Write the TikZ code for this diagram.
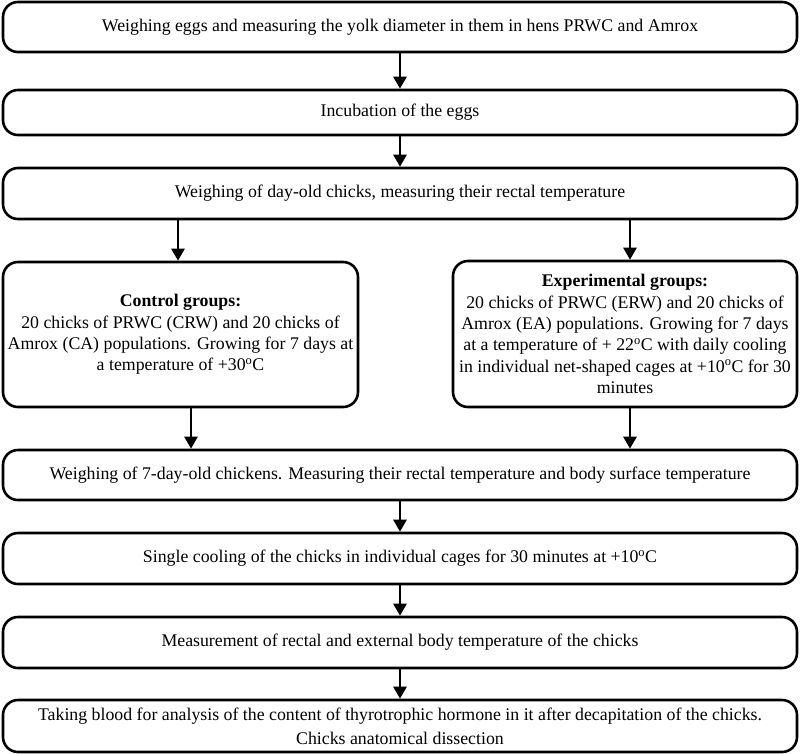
\documentclass[tikz,border=0pt]{standalone}
\usepackage{fontspec}
\setmainfont{Liberation Serif}
\usetikzlibrary{arrows.meta}
\begin{document}
\begin{tikzpicture}[x=1pt,y=-1pt,
  stepbox/.style={draw, line width=2.6pt, rounded corners=15pt, inner sep=0pt, align=center,
     font=\fontsize{17.8}{21.3}\selectfont},
  arr/.style={line width=2.6pt, -{Triangle[width=13pt,length=12pt]}}]
\useasboundingbox (0,0) rectangle (800,753);
\node[stepbox, minimum width=794pt, minimum height=50pt] (b1) at (400,27) {Weighing eggs and measuring the yolk diameter in them in hens PRWC and Amrox};
\node[stepbox, minimum width=794pt, minimum height=45pt] (b2) at (400,112.5) {Incubation of the eggs};
\node[stepbox, minimum width=794pt, minimum height=51pt] (b3) at (400,193.5) {Weighing of day-old chicks, measuring their rectal temperature};
\node[stepbox, minimum width=355pt, minimum height=145pt] (ctrl) at (180.5,334.5) {\textbf{Control groups:}\\20 chicks of PRWC (CRW) and 20 chicks of\\Amrox (CA) populations. Growing for 7 days at\\a temperature of +30\textsuperscript{o}C};
\node[stepbox, minimum width=344pt, minimum height=146pt] (exp) at (625,334) {\textbf{Experimental groups:}\\20 chicks of PRWC (ERW) and 20 chicks of\\Amrox (EA) populations. Growing for 7 days\\at a temperature of + 22\textsuperscript{o}C with daily cooling\\in individual net-shaped cages at +10\textsuperscript{o}C for 30\\minutes};
\node[stepbox, minimum width=794pt, minimum height=50pt] (b4) at (400,475) {Weighing of 7-day-old chickens. Measuring their rectal temperature and body surface temperature};
\node[stepbox, minimum width=794pt, minimum height=51pt] (b5) at (400,558.5) {Single cooling of the chicks in individual cages for 30 minutes at +10\textsuperscript{o}C};
\node[stepbox, minimum width=794pt, minimum height=51pt] (b6) at (400,642.5) {Measurement of rectal and external body temperature of the chicks};
\node[stepbox, minimum width=794pt, minimum height=52pt, font=\fontsize{17.8}{24}\selectfont] (b7) at (400,726) {Taking blood for analysis of the content of thyrotrophic hormone in it after decapitation of the chicks.\\Chicks anatomical dissection};
\draw[arr] (b1.south) -- (b2.north);
\draw[arr] (b2.south) -- (b3.north);
\draw[arr] ([xshift=-2.5pt]b3.south -| ctrl.north) -- ([xshift=-2.5pt]ctrl.north);
\draw[arr] ([xshift=5pt]b3.south -| exp.north) -- ([xshift=5pt]exp.north);
\draw[arr] ([xshift=10.5pt]ctrl.south) -- ([xshift=10.5pt]ctrl.south |- b4.north);
\draw[arr] ([xshift=5pt]exp.south) -- ([xshift=5pt]exp.south |- b4.north);
\draw[arr] (b4.south) -- (b5.north);
\draw[arr] (b5.south) -- (b6.north);
\draw[arr] (b6.south) -- (b7.north);
\end{tikzpicture}
\end{document}
